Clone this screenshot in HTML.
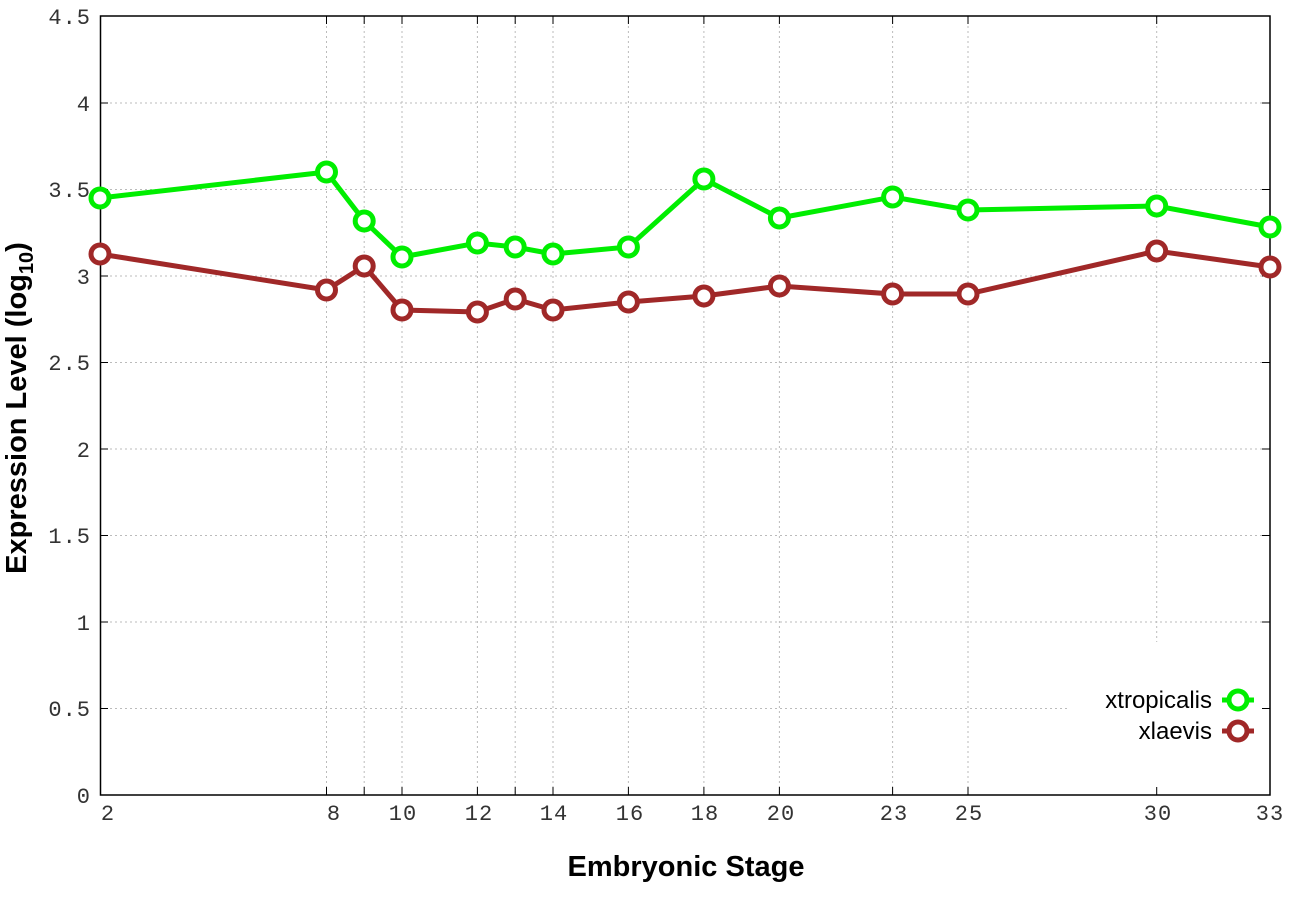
<!DOCTYPE html>
<html><head><style>body{margin:0;background:#fff}</style></head><body>
<svg width="1296" height="907" xmlns="http://www.w3.org/2000/svg">
<rect width="1296" height="907" fill="#fff"/>
<g stroke="#bbb" stroke-width="1" stroke-dasharray="2,3">
<line x1="100" x2="1270" y1="103" y2="103"/><line x1="100" x2="1270" y1="189.5" y2="189.5"/>
<line x1="100" x2="1270" y1="276" y2="276"/><line x1="100" x2="1270" y1="362.5" y2="362.5"/>
<line x1="100" x2="1270" y1="449" y2="449"/><line x1="100" x2="1270" y1="535.5" y2="535.5"/>
<line x1="100" x2="1270" y1="622" y2="622"/><line x1="100" x2="1070" y1="708.5" y2="708.5"/>
<line x1="326.5" x2="326.5" y1="16" y2="795"/><line x1="364.2" x2="364.2" y1="16" y2="795"/>
<line x1="402" x2="402" y1="16" y2="795"/><line x1="477.4" x2="477.4" y1="16" y2="795"/>
<line x1="515.2" x2="515.2" y1="16" y2="795"/><line x1="553" x2="553" y1="16" y2="795"/>
<line x1="628.4" x2="628.4" y1="16" y2="795"/><line x1="703.9" x2="703.9" y1="16" y2="795"/>
<line x1="779.4" x2="779.4" y1="16" y2="795"/><line x1="892.6" x2="892.6" y1="16" y2="795"/>
<line x1="968" x2="968" y1="16" y2="795"/><line x1="1156.7" x2="1156.7" y1="16" y2="642"/>
</g>
<rect x="100.5" y="16" width="1169.5" height="779" fill="none" stroke="#000" stroke-width="1.5"/>
<g stroke="#000" stroke-width="1">
<path d="M100 103h8M100 189.5h8M100 276h8M100 362.5h8M100 449h8M100 535.5h8M100 622h8M100 708.5h8M1270 103h-8M1270 189.5h-8M1270 276h-8M1270 362.5h-8M1270 449h-8M1270 535.5h-8M1270 622h-8M1270 708.5h-8"/>
<path d="M326.5 795v-8M364.2 795v-8M402 795v-8M477.4 795v-8M515.2 795v-8M553 795v-8M628.4 795v-8M703.9 795v-8M779.4 795v-8M892.6 795v-8M968 795v-8M1156.7 795v-8M326.5 16v8M364.2 16v8M402 16v8M477.4 16v8M515.2 16v8M553 16v8M628.4 16v8M703.9 16v8M779.4 16v8M892.6 16v8M968 16v8M1156.7 16v8"/>
</g>
<g font-family="Liberation Mono, monospace" font-size="22" fill="#333" text-anchor="end" letter-spacing="1">
<text x="91" y="24">4.5</text><text x="91" y="111">4</text><text x="91" y="197">3.5</text><text x="91" y="284">3</text>
<text x="91" y="370">2.5</text><text x="91" y="457">2</text><text x="91" y="543">1.5</text><text x="91" y="630">1</text>
<text x="91" y="716">0.5</text><text x="91" y="803">0</text>
</g>
<g font-family="Liberation Mono, monospace" font-size="22" fill="#333" text-anchor="middle" letter-spacing="1">
<text x="108" y="820">2</text><text x="334" y="820">8</text><text x="403" y="820">10</text><text x="479" y="820">12</text>
<text x="554" y="820">14</text><text x="630" y="820">16</text><text x="705" y="820">18</text><text x="781" y="820">20</text>
<text x="894" y="820">23</text><text x="969" y="820">25</text><text x="1158" y="820">30</text><text x="1270" y="820">33</text>
</g>
<text x="686" y="876" text-anchor="middle" font-family="Liberation Sans, sans-serif" font-weight="bold" font-size="29">Embryonic Stage</text>
<text transform="translate(26,408) rotate(-90)" text-anchor="middle" font-family="Liberation Sans, sans-serif" font-weight="bold" font-size="29">Expression Level (log<tspan font-size="20" dy="7">10</tspan><tspan dy="-7">)</tspan></text>
<g fill="none" stroke="#00ee00" stroke-width="5">
<polyline points="100,198 326.5,172 364.2,221 402,257 477.4,243 515.2,247 553,254 628.4,247 703.9,179 779.4,218 892.6,197 968,210 1156.7,206 1270,227"/>
<g fill="#fff"><circle cx="100" cy="198" r="9"/><circle cx="326.5" cy="172" r="9"/><circle cx="364.2" cy="221" r="9"/><circle cx="402" cy="257" r="9"/><circle cx="477.4" cy="243" r="9"/><circle cx="515.2" cy="247" r="9"/><circle cx="553" cy="254" r="9"/><circle cx="628.4" cy="247" r="9"/><circle cx="703.9" cy="179" r="9"/><circle cx="779.4" cy="218" r="9"/><circle cx="892.6" cy="197" r="9"/><circle cx="968" cy="210" r="9"/><circle cx="1156.7" cy="206" r="9"/><circle cx="1270" cy="227" r="9"/></g>
</g>
<g fill="none" stroke="#a02828" stroke-width="5">
<polyline points="100,254 326.5,290 364.2,266 402,310 477.4,312 515.2,299 553,310 628.4,302 703.9,296 779.4,286 892.6,294 968,294 1156.7,251 1270,267"/>
<g fill="#fff"><circle cx="100" cy="254" r="9"/><circle cx="326.5" cy="290" r="9"/><circle cx="364.2" cy="266" r="9"/><circle cx="402" cy="310" r="9"/><circle cx="477.4" cy="312" r="9"/><circle cx="515.2" cy="299" r="9"/><circle cx="553" cy="310" r="9"/><circle cx="628.4" cy="302" r="9"/><circle cx="703.9" cy="296" r="9"/><circle cx="779.4" cy="286" r="9"/><circle cx="892.6" cy="294" r="9"/><circle cx="968" cy="294" r="9"/><circle cx="1156.7" cy="251" r="9"/><circle cx="1270" cy="267" r="9"/></g>
</g>
<g font-family="Liberation Sans, sans-serif" font-size="24" fill="#000" text-anchor="end">
<text x="1212" y="708">xtropicalis</text><text x="1212" y="739">xlaevis</text>
</g>
<g stroke-width="5" fill="#fff">
<path d="M1222 700h32" stroke="#00ee00"/><circle cx="1238" cy="700" r="9" stroke="#00ee00"/>
<path d="M1222 731h32" stroke="#a02828"/><circle cx="1238" cy="731" r="9" stroke="#a02828"/>
</g>
</svg>
</body></html>
